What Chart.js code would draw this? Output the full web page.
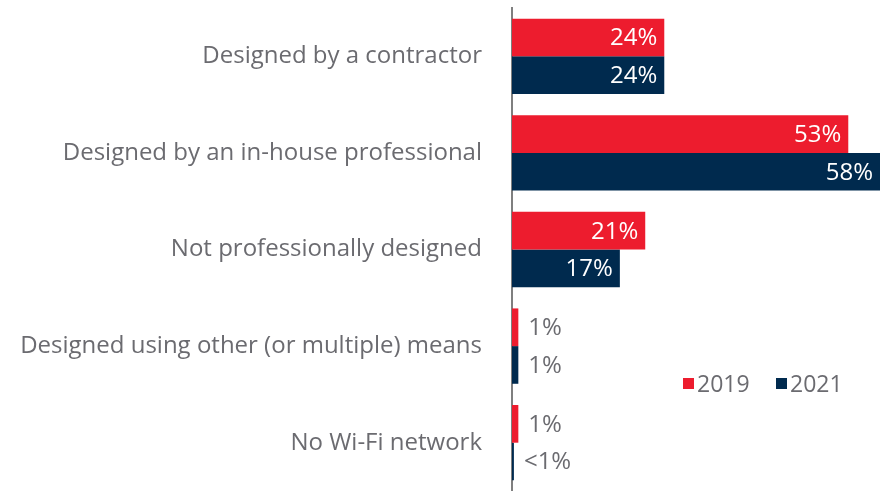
<!DOCTYPE html>
<html>
<head>
<meta charset="utf-8">
<script src="https://cdn.jsdelivr.net/npm/chart.js@4"></script>
<style>
  html, body { margin: 0; padding: 0; background: #fff; overflow: hidden; }
  canvas { display: block; }
</style>
</head>
<body>
<canvas id="chart" width="883" height="491"></canvas>
<script>
const categories = [
  'Designed by a contractor',
  'Designed by an in-house professional',
  'Not professionally designed',
  'Designed using other (or multiple) means',
  'No Wi-Fi network'
];
const values2019 = [24, 53, 21, 1, 1];
const values2021 = [24, 58, 17, 1, 0.3];
const labels2019 = ['24%', '53%', '21%', '1%', '1%'];
const labels2021 = ['24%', '58%', '17%', '1%', '<1%'];

const RED = '#ED1C2E';
const NAVY = '#002A4E';
const GREY = '#6b6b70';
const FONT = "'Open Sans', sans-serif";

// value labels inside / outside bars
const valueLabels = {
  id: 'valueLabels',
  afterDatasetsDraw(chart) {
    const ctx = chart.ctx;
    const texts = [labels2019, labels2021];
    ctx.save();
    ctx.font = '24px ' + FONT;
    ctx.textBaseline = 'middle';
    chart.data.datasets.forEach((ds, i) => {
      chart.getDatasetMeta(i).data.forEach((bar, j) => {
        const big = ds.data[j] >= 10;
        if (big) {
          ctx.fillStyle = '#fff';
          ctx.textAlign = 'right';
          ctx.fillText(texts[i][j], bar.x - 7, bar.y + 1);
        } else {
          ctx.fillStyle = GREY;
          ctx.textAlign = 'left';
          ctx.fillText(texts[i][j], bar.x + 10, bar.y + 1);
        }
      });
    });
    ctx.restore();
  }
};

// legend placed bottom right
const cornerLegend = {
  id: 'cornerLegend',
  afterDraw(chart) {
    const ctx = chart.ctx;
    const spots = [683, 776];
    ctx.save();
    ctx.font = '23px ' + FONT;
    ctx.textBaseline = 'middle';
    ctx.textAlign = 'left';
    chart.data.datasets.forEach((ds, i) => {
      ctx.fillStyle = ds.backgroundColor;
      ctx.fillRect(spots[i], 378, 11, 11);
      ctx.fillStyle = GREY;
      ctx.fillText(ds.label, spots[i] + 14, 385);
    });
    ctx.restore();
  }
};

new Chart(document.getElementById('chart'), {
  type: 'bar',
  data: {
    labels: categories,
    datasets: [
      { label: '2019', data: values2019, backgroundColor: RED },
      { label: '2021', data: values2021, backgroundColor: NAVY }
    ]
  },
  options: {
    indexAxis: 'y',
    responsive: false,
    animation: false,
    layout: { padding: { top: 8, right: 3, bottom: 0, left: 0 } },
    datasets: {
      bar: { categoryPercentage: 0.78, barPercentage: 1 }
    },
    plugins: {
      legend: { display: false },
      tooltip: { enabled: false }
    },
    scales: {
      x: {
        display: false,
        min: 0,
        max: 58
      },
      y: {
        grid: { display: false },
        border: { display: true, color: '#7f7f7f', width: 2 },
        afterFit(scale) {
          scale.width = 512;
          scale.paddingTop = 0;
          scale.paddingBottom = 0;
        },
        ticks: {
          color: GREY,
          padding: 22,
          font: { family: FONT, size: 24 }
        }
      }
    }
  },
  plugins: [valueLabels, cornerLegend]
});
</script>
</body>
</html>
